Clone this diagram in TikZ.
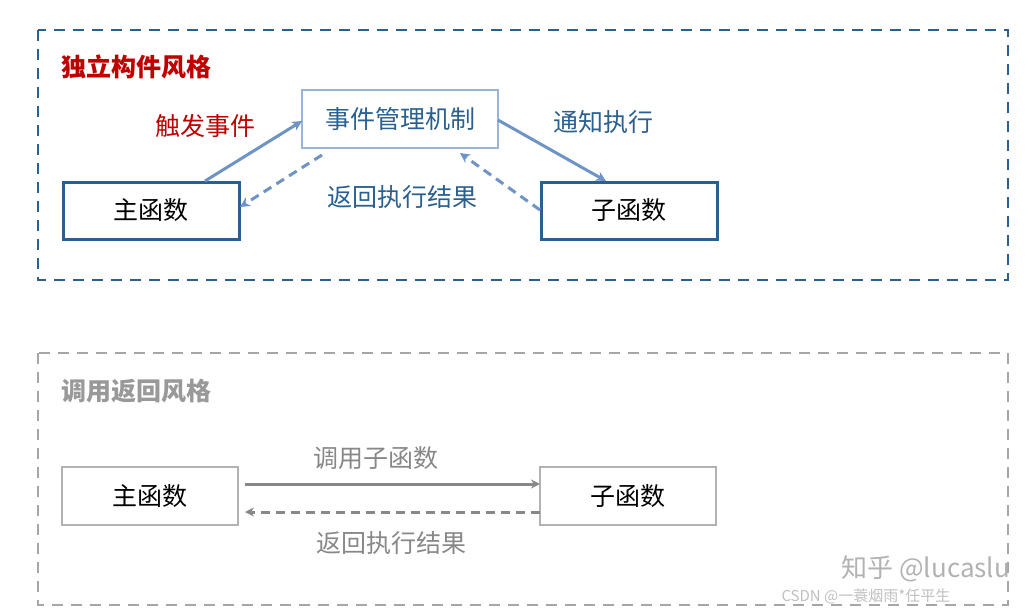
\documentclass[tikz,border=0pt]{standalone}
\usepackage{fontspec}
\newfontfamily\cjk{Noto Sans CJK SC}
\usetikzlibrary{arrows.meta}
\definecolor{bl}{HTML}{2B5F8E}
\definecolor{ab}{HTML}{6D94C4}
\definecolor{gr}{HTML}{888888}
\begin{document}
\begin{tikzpicture}[x=1pt,y=-1pt,cjk/.style={font=\cjk\fontsize{25}{27}\selectfont},
 frame/.style={dashed,dash pattern=on 11pt off 8pt,line width=1.3pt},
 box/.style={draw=bl,line width=3pt,minimum width=176pt,minimum height=57pt,inner sep=0pt,cjk,text=black},
 gbox/.style={draw=gray!60,line width=1.2pt,minimum width=176pt,minimum height=58pt,inner sep=0pt,cjk,text=black},
 sa/.style={draw=ab,line width=3pt,-{Stealth[length=10pt,width=10pt]}},
 da/.style={sa,dash pattern=on 9pt off 6pt},
 ga/.style={draw=gr,line width=3pt,-{Stealth[length=9pt,width=9pt]}}]
\useasboundingbox (0,0) rectangle (1031,613);
\draw[frame,draw=bl] (38,30) rectangle (1008,280);
\draw[frame,draw=gray!70] (38,353) rectangle (1008,605);
\node[cjk,text=red!75!black,anchor=west,font=\cjk\bfseries\fontsize{25}{27}\selectfont] (t1) at (58,67) {独立构件风格};
\node[cjk,text=gray!80,anchor=west,font=\cjk\bfseries\fontsize{25}{27}\selectfont] (t2) at (58,391) {调用返回风格};
\node[box] (m1) at (151,210.5) {主函数};
\node[box] (s1) at (629,210.5) {子函数};
\node[draw=ab!70,line width=1.3pt,minimum width=196pt,minimum height=58pt,inner sep=0pt,cjk,text=bl] (ev) at (400,119) {事件管理机制};
\node[gbox] (m2) at (150,496) {主函数};
\node[gbox] (s2) at (628,496) {子函数};
\coordinate (a1) at (205,181); \coordinate (a2) at (302,121);
\coordinate (b1) at (322,155); \coordinate (b2) at (240,207);
\coordinate (c1) at (498,120); \coordinate (c2) at (606,181);
\coordinate (d1) at (540,210); \coordinate (d2) at (460,153);
\draw[sa] (a1) -- (a2);
\draw[da] (b1) -- (b2);
\draw[sa] (c1) -- (c2);
\draw[da] (d1) -- (d2);
\coordinate (e1) at (245,484); \coordinate (e2) at (540,484);
\coordinate (f1) at (540,512); \coordinate (f2) at (245,512);
\draw[ga] (e1) -- (e2);
\draw[ga,dash pattern=on 9pt off 6pt] (f1) -- (f2);
\node[cjk,text=red!75!black] (l1) at (205,126) {触发事件};
\node[cjk,text=bl] (l2) at (603,122) {通知执行};
\node[cjk,text=bl] (l3) at (402,197) {返回执行结果};
\node[cjk,text=gr] (l4) at (376,458) {调用子函数};
\node[cjk,text=gr] (l5) at (391,543) {返回执行结果};
\node[cjk,text=gray!60,anchor=west,font=\cjk\fontsize{26}{28}\selectfont] (w1) at (838,569) {知乎 @lucaslu};
\node[cjk,text=gray!50,anchor=west,font=\cjk\fontsize{15}{16}\selectfont] (w2) at (778,596) {CSDN @一蓑烟雨*任平生};
\end{tikzpicture}
\end{document}
